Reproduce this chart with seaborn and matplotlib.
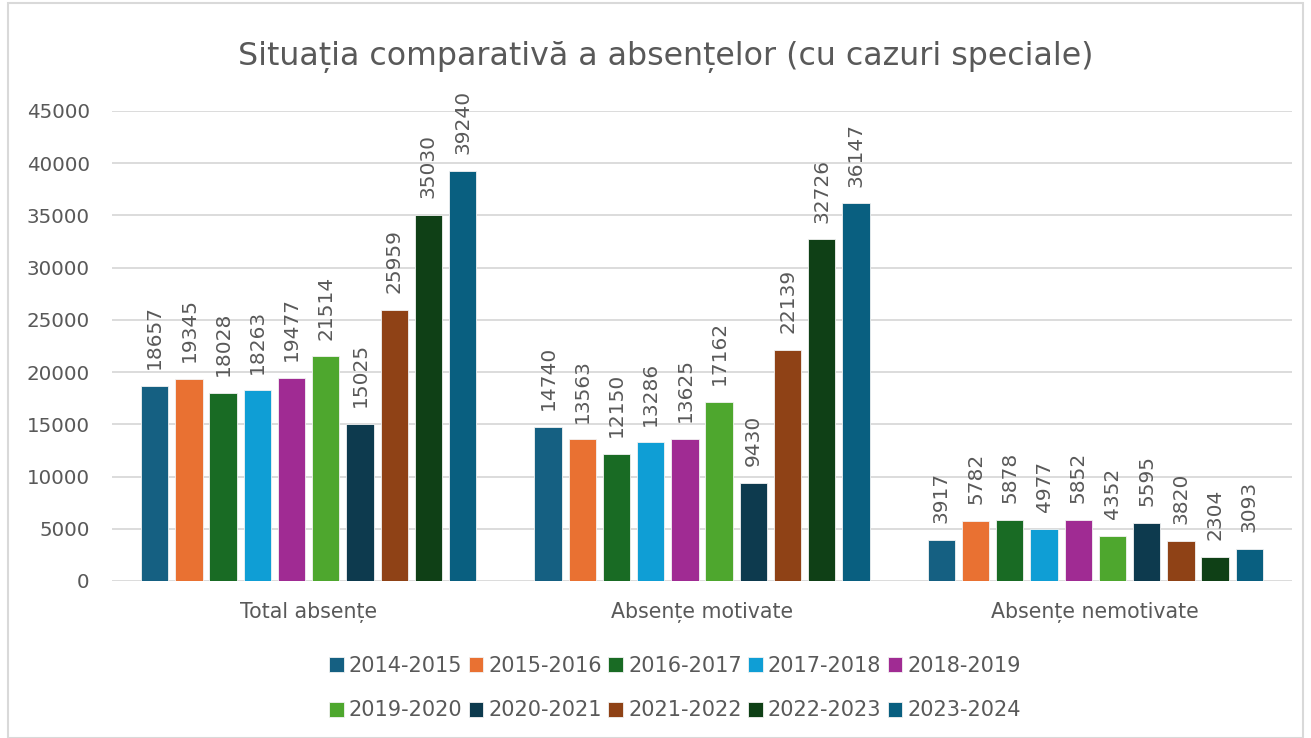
import matplotlib
matplotlib.use("Agg")
import matplotlib.pyplot as plt
from matplotlib.patches import Rectangle
import seaborn as sns
import pandas as pd

# Data
categories = ["Total absențe", "Absențe motivate", "Absențe nemotivate"]
periods = ["2014-2015", "2015-2016", "2016-2017", "2017-2018", "2018-2019",
           "2019-2020", "2020-2021", "2021-2022", "2022-2023", "2023-2024"]
total = [18657, 19345, 18028, 18263, 19477, 21514, 15025, 25959, 35030, 39240]
motivate = [14740, 13563, 12150, 13286, 13625, 17162, 9430, 22139, 32726, 36147]
nemotivate = [3917, 5782, 5878, 4977, 5852, 4352, 5595, 3820, 2304, 3093]
colors = ["#156082", "#E97132", "#196B24", "#0F9ED5", "#A02B93",
          "#4EA72E", "#0D3A4E", "#8F4216", "#0F4016", "#095F80"]
yticks = [0, 5000, 10000, 15000, 20000, 25000, 30000, 35000, 40000, 45000]

rows = []
for cat, vals in zip(categories, [total, motivate, nemotivate]):
    for per, v in zip(periods, vals):
        rows.append({"categorie": cat, "perioada": per, "valoare": v})
df = pd.DataFrame(rows)

sns.set_theme(style="white")
plt.rcParams["font.family"] = ["DejaVu Sans"]
text_color = "#595959"
grid_color = "#D9D9D9"

W, H = 1311, 738
fig = plt.figure(figsize=(W / 100, H / 100), dpi=100)
ax = fig.add_axes([112 / W, 1 - 581 / H, (1292 - 112) / W, (581 - 111) / H])

sns.barplot(data=df, x="categorie", y="valoare", hue="perioada",
            order=categories, hue_order=periods, palette=colors, saturation=1,
            width=0.87, gap=0.2, ax=ax, edgecolor="#F2F2F2", linewidth=0.6,
            legend=True)

for cont in ax.containers:
    ax.bar_label(cont, labels=[f"{int(v.get_height())}" for v in cont],
                 rotation=90, padding=12, fontsize=14.5, color=text_color)

ax.set_ylim(0, 45000)
ax.set_xlim(-0.5, 2.5)
ax.set_yticks(yticks)
ax.set_yticklabels([str(t) for t in yticks])
ax.yaxis.grid(True, color=grid_color, linewidth=1.3)
ax.set_axisbelow(True)
for s in ax.spines.values():
    s.set_visible(False)
ax.tick_params(axis="y", length=0, pad=16, labelsize=14.3, labelcolor=text_color)
ax.tick_params(axis="x", length=0, pad=15, labelsize=14.8, labelcolor=text_color)
ax.set_xlabel("")
ax.set_ylabel("")

# Legend filled row by row: 5 columns, 2 rows
handles, labels = ax.get_legend_handles_labels()
ax.get_legend().remove()
ncol = 5
order = [c + r * ncol for c in range(ncol) for r in range(2)]
fig.legend([handles[i] for i in order], [labels[i] for i in order],
           loc="center", bbox_to_anchor=(675 / W, 1 - 688 / H),
           ncol=ncol, frameon=False, fontsize=15, labelcolor=text_color,
           handlelength=0.7, handleheight=0.7, handletextpad=0.25,
           columnspacing=0.3, labelspacing=1.2)

fig.text(666 / W, 1 - 57 / H, "Situația comparativă a absențelor (cu cazuri speciale)",
         ha="center", va="center", fontsize=22.8, color=text_color)

fig.patches.append(Rectangle((8 / W, 0), 1 - 16 / W, 1 - 3 / H,
                             transform=fig.transFigure, fill=False,
                             edgecolor=grid_color, linewidth=1.5))

fig.savefig("out.png", dpi=100)
